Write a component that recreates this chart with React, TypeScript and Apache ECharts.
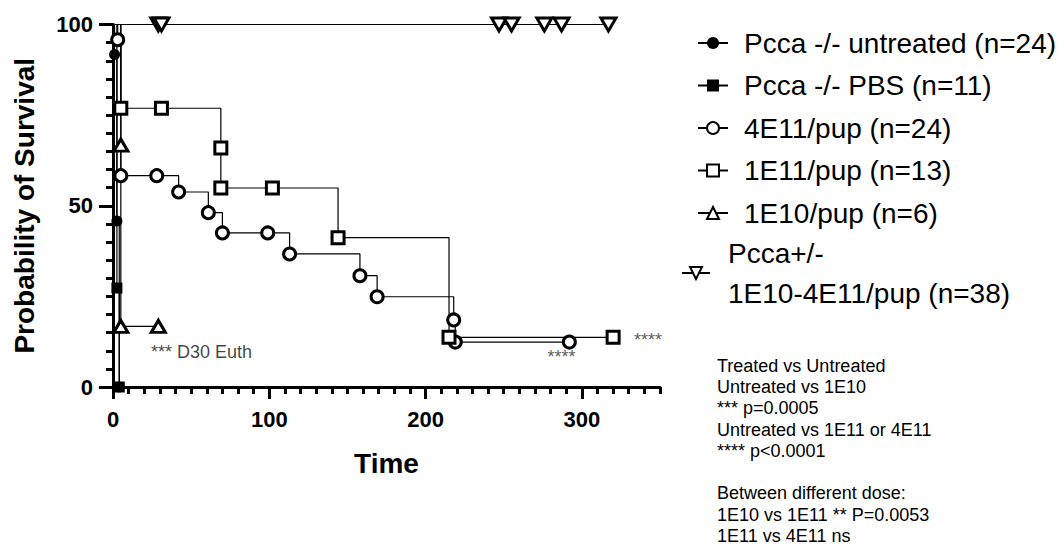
import React, { useEffect, useRef } from "react";
import * as echarts from "echarts";

const FONT = '"Liberation Sans", Arial, sans-serif';

const seriesNames = [
  "Pcca -/- untreated (n=24)",
  "Pcca -/- PBS (n=11)",
  "4E11/pup (n=24)",
  "1E11/pup (n=13)",
  "1E10/pup (n=6)",
  "Pcca+/- 1E10-4E11/pup (n=38)",
];

// Kaplan-Meier step points: time (days) and survival (%)
const untreatedTime = [0, 1, 2.5, 4];
const untreatedSurv = [100, 91.7, 45.8, 0];
const pbsTime = [0, 2.5, 4];
const pbsSurv = [100, 27.3, 0];
const dose4E11Time = [0, 3, 5, 28, 42, 61, 70, 99, 113, 158, 169, 218, 219, 292];
const dose4E11Surv = [100, 95.8, 58.3, 58.3, 53.8, 48.1, 42.5, 42.5, 36.7, 30.7, 24.9, 18.5, 12.4, 12.4];
const dose1E11Time = [0, 5, 31, 69, 69, 102, 144, 215, 320];
const dose1E11Surv = [100, 76.9, 76.9, 65.9, 54.9, 54.9, 41.2, 13.7, 13.7];
const dose1E10Time = [0, 5, 5, 29];
const dose1E10Surv = [100, 66.7, 16.7, 16.7];
const hetTime = [0, 29, 31, 247, 255, 276, 287, 317];
const hetSurv = [100, 100, 100, 100, 100, 100, 100, 100];

const xTickValues = [0, 100, 200, 300];

const noteTexts = ["*** D30 Euth", "****", "****"];
const noteTime = [24, 287, 333];
const noteSurv = [9.7, 8.3, 13];

const statsLines = [
  "Treated vs Untreated",
  "Untreated vs 1E10",
  "*** p=0.0005",
  "Untreated vs 1E11 or 4E11",
  "**** p<0.0001",
  "",
  "Between different dose:",
  "1E10 vs 1E11 ** P=0.0053",
  "1E11 vs 4E11 ns",
];

function kmData(times: number[], surv: number[]) {
  return times.map((t, i) =>
    i === 0 ? { value: [t, surv[i]], symbol: "none" } : { value: [t, surv[i]] }
  );
}

const hollow = { color: "#fff", borderColor: "#000", borderWidth: 3 };
const filled = { color: "#000", borderColor: "#000", borderWidth: 0 };

function lineSeries(name: string, times: number[], surv: number[], symbol: string, size: any, itemStyle: any, rotate = 0) {
  return {
    type: "line",
    name,
    step: "end",
    data: kmData(times, surv),
    symbol,
    symbolSize: size,
    symbolRotate: rotate,
    showAllSymbol: true,
    itemStyle,
    lineStyle: { color: "#000", width: 1.2 },
    emphasis: { disabled: true },
    xAxisIndex: 0,
    yAxisIndex: 0,
  };
}

export default function App() {
  const ref = useRef<HTMLDivElement>(null);
  useEffect(() => {
    if (!ref.current) return;
    const chart = echarts.init(ref.current, undefined, { renderer: "svg" });
    const labelStyle = { fontFamily: FONT, fontSize: 22, fontWeight: "bold", color: "#000" };
    const option: any = {
      animation: false,
      grid: { left: 113, right: 404, top: 24.5, bottom: 161, containLabel: false },
      xAxis: [
        {
          type: "value",
          min: 0,
          max: 350,
          position: "bottom",
          axisLine: { show: true, onZero: false, lineStyle: { color: "#000", width: 3 } },
          axisTick: { show: true, length: 12, customValues: xTickValues, lineStyle: { color: "#000", width: 3 } },
          axisLabel: { ...labelStyle, margin: 21, customValues: xTickValues },
          splitLine: { show: false },
          name: "Time",
          nameLocation: "middle",
          nameGap: 62,
          nameTextStyle: { fontFamily: FONT, fontSize: 28, fontWeight: "bold", color: "#000" },
        },
        {
          type: "value",
          min: 0,
          max: 350,
          interval: 10,
          position: "bottom",
          axisLine: { show: false, onZero: false },
          axisTick: { show: true, length: 7, lineStyle: { color: "#000", width: 3 } },
          axisLabel: { show: false },
          splitLine: { show: false },
        },
      ],
      yAxis: {
        type: "value",
        min: 0,
        max: 100,
        interval: 50,
        axisLine: { show: true, onZero: false, lineStyle: { color: "#000", width: 3 } },
        axisTick: { show: true, length: 14, lineStyle: { color: "#000", width: 3 } },
        minorTick: { show: true, splitNumber: 10, length: 7, lineStyle: { color: "#000", width: 3 } },
        axisLabel: { ...labelStyle, margin: 20 },
        splitLine: { show: false },
        minorSplitLine: { show: false },
        name: "Probability of Survival",
        nameLocation: "middle",
        nameGap: 75,
        nameTextStyle: { fontFamily: FONT, fontSize: 28, fontWeight: "bold", color: "#000" },
      },
      legend: [
        {
          orient: "vertical",
          left: 697,
          top: 27,
          padding: 0,
          itemGap: 10.5,
          itemWidth: 30,
          itemHeight: 15,
          data: seriesNames.slice(0, 5),
          textStyle: { fontFamily: FONT, fontSize: 28, color: "#000", lineHeight: 32, padding: [0, 0, 0, 11] },
          selectedMode: false,
        },
        {
          orient: "vertical",
          left: 681,
          top: 233,
          padding: 0,
          itemWidth: 28,
          itemHeight: 15,
          data: [seriesNames[5]],
          formatter: () => "Pcca+/-\n1E10-4E11/pup (n=38)",
          textStyle: { fontFamily: FONT, fontSize: 28, color: "#000", lineHeight: 40, padding: [0, 0, 0, 13] },
          selectedMode: false,
        },
      ],
      series: [
        lineSeries(seriesNames[5], hetTime, hetSurv, "triangle", [15, 13], hollow, 180),
        lineSeries(seriesNames[0], untreatedTime, untreatedSurv, "circle", 11, filled),
        lineSeries(seriesNames[1], pbsTime, pbsSurv, "rect", 11, filled),
        lineSeries(seriesNames[2], dose4E11Time, dose4E11Surv, "circle", 12, hollow),
        lineSeries(seriesNames[3], dose1E11Time, dose1E11Surv, "rect", 12, hollow),
        lineSeries(seriesNames[4], dose1E10Time, dose1E10Surv, "triangle", [14, 12], hollow),
        {
          type: "scatter",
          name: "notes",
          symbolSize: 1,
          itemStyle: { color: "transparent" },
          emphasis: { disabled: true },
          silent: true,
          data: noteTexts.map((t, i) => ({
            value: [noteTime[i], noteSurv[i]],
            name: t,
            label: {
              show: true,
              formatter: t,
              position: i === 1 ? "inside" : "right",
              distance: 0,
              fontFamily: FONT,
              fontSize: 18,
              color: i === 0 ? "#111" : "#333",
            },
          })),
        },
      ],
      graphic: [
        {
          type: "text",
          left: 717,
          top: 355,
          style: {
            text: statsLines.join("\n"),
            fontFamily: FONT,
            fontSize: 18,
            lineHeight: 21.3,
            fill: "#000",
          },
        },
      ],
    };
    chart.setOption(option);
    return () => chart.dispose();
  }, []);
  return (
    <div
      ref={ref}
      style={{ position: "fixed", left: 0, top: 0, width: 1064, height: 548, background: "#fff" }}
    />
  );
}
